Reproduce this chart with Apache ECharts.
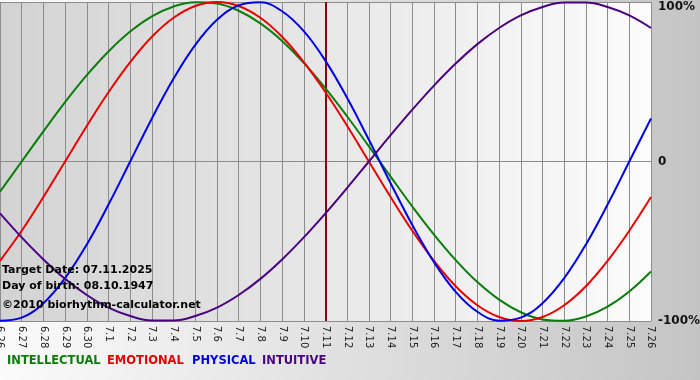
<!DOCTYPE html>
<html><head><meta charset="utf-8">
<script src="https://cdn.jsdelivr.net/npm/echarts@6/dist/echarts.min.js"></script>
<style>html,body{margin:0;padding:0;}#c{width:700px;height:380px;}</style>
</head><body><div id="c"></div>
<script>
const days = ['6.26','6.27','6.28','6.29','6.30','7.1','7.2','7.3','7.4','7.5','7.6','7.7','7.8','7.9','7.10','7.11','7.12','7.13','7.14','7.15','7.16','7.17','7.18','7.19','7.20','7.21','7.22','7.23','7.24','7.25','7.26'];
const intellectual = [-18.9,0,18.9,37.2,54.1,69.0,81.5,91.0,97.2,99.9,99.0,94.5,86.6,75.6,61.8,45.8,28.2,9.5,-9.5,-28.2,-45.8,-61.8,-75.6,-86.6,-94.5,-99.0,-99.9,-97.2,-91.0,-81.5,-69.0];
const emotional = [-62.3,-43.4,-22.3,0,22.3,43.4,62.3,78.2,90.1,97.5,100,97.5,90.1,78.2,62.3,43.4,22.3,0,-22.3,-43.4,-62.3,-78.2,-90.1,-97.5,-100,-97.5,-90.1,-78.2,-62.3,-43.4,-22.3];
const physical = [-99.8,-97.9,-88.8,-73.1,-52.0,-27.0,0,27.0,52.0,73.1,88.8,97.9,99.8,94.2,81.7,63.1,39.8,13.6,-13.6,-39.8,-63.1,-81.7,-94.2,-99.8,-97.9,-88.8,-73.1,-52.0,-27.0,0,27.0];
const intuitive = [-32.5,-47.6,-61.4,-73.6,-83.7,-91.6,-96.9,-99.7,-99.7,-96.9,-91.6,-83.7,-73.6,-61.4,-47.6,-32.5,-16.5,0,16.5,32.5,47.6,61.4,73.6,83.7,91.6,96.9,99.7,99.7,96.9,91.6,83.7];
const targetDay = '7.11';
const yTicks = {'100':'{top|100%}','0':'0','-100':'-100%'};
const names = ['INTELLECTUAL','EMOTIONAL','PHYSICAL','INTUITIVE'];
const colors = ['#0a7d0a','#e60000','#0000e0','#4b0082'];
const infoLines = ['Target Date: 07.11.2025','Day of birth: 08.10.1947','©2010 biorhythm-calculator.net'];

const chart = echarts.init(document.getElementById('c'));
const font = 'Verdana, "DejaVu Sans", sans-serif';
const mk = (name, data, i) => ({
  name, type:'line', data, smooth:0.4, symbol:'none',
  lineStyle:{color:colors[i], width:2}, itemStyle:{color:colors[i]},
  z: 3
});
const series = [mk(names[0],intellectual,0), mk(names[1],emotional,1), mk(names[2],physical,2), mk(names[3],intuitive,3)];
series[0].markLine = {silent:true, symbol:'none', label:{show:false},
  lineStyle:{color:'#7a0c0c', width:2, type:'solid'}, data:[{xAxis:targetDay}], z:2};

const legendX = [7,107,192,262];
chart.setOption({
  animation:false,
  backgroundColor:{type:'linear',x:0,y:0,x2:1,y2:0,colorStops:[{offset:0,color:'#fbfbfb'},{offset:1,color:'#c4c4c4'}]},
  grid:{left:0,right:49,top:2,bottom:59,show:true,borderWidth:0,outerBoundsMode:'none',containLabel:false,
    backgroundColor:{type:'linear',x:0,y:0,x2:1,y2:0,colorStops:[{offset:0,color:'#d3d3d3'},{offset:1,color:'#fcfcfc'}]}},
  legend:{show:false, data:names},
  xAxis:{type:'category', data:days, boundaryGap:false,
    axisLine:{show:true, lineStyle:{color:'#8c8c8c', width:1}},
    axisTick:{show:true, interval:0, length:4, lineStyle:{color:'#8c8c8c'}},
    axisLabel:{interval:0, rotate:-90, color:'#222', fontFamily:font, fontSize:10, margin:5, hideOverlap:false},
    splitLine:{show:true, interval:0, lineStyle:{color:'#8c8c8c', width:1}}},
  yAxis:{type:'value', min:-100, max:100, interval:100, position:'right',
    axisLine:{show:false}, axisTick:{show:false},
    axisLabel:{color:'#111', fontFamily:font, fontWeight:'bold', fontSize:12, margin:7,
      formatter:v=>yTicks[String(v)],
      rich:{top:{padding:[10,0,0,0], color:'#111', fontFamily:font, fontWeight:'bold', fontSize:12}}},
    splitLine:{show:true, lineStyle:{color:'#8c8c8c', width:1}}},
  graphic: infoLines.map((t,i)=>({type:'text', left:2, top:[265,281,300][i], z:10,
    style:{text:t, fill:'#000', font:'bold 11px '+font}}))
    .concat(names.map((n,i)=>({type:'text', left:legendX[i], top:355, z:10,
    style:{text:n, fill:colors[i], font:'bold 11.5px '+font}}))),
  series
});
</script></body></html>
